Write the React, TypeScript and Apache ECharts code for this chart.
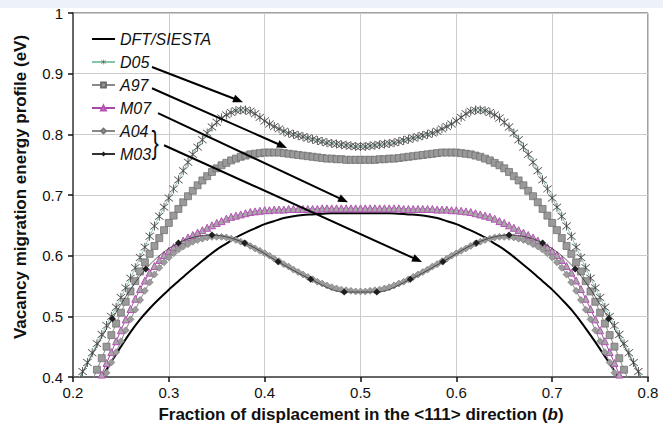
import React, { useEffect, useRef } from "react";
import * as echarts from "echarts";

const X_GRID = [
  0.2, 0.205, 0.21, 0.215, 0.22, 0.225, 0.23, 0.235, 0.24, 0.245, 0.25, 0.255, 0.26, 0.265, 0.27, 0.275,
  0.28, 0.285, 0.29, 0.295, 0.3, 0.305, 0.31, 0.315, 0.32, 0.325, 0.33, 0.335, 0.34, 0.345, 0.35, 0.355,
  0.36, 0.365, 0.37, 0.375, 0.38, 0.385, 0.39, 0.395, 0.4, 0.405, 0.41, 0.415, 0.42, 0.425, 0.43, 0.435,
  0.44, 0.445, 0.45, 0.455, 0.46, 0.465, 0.47, 0.475, 0.48, 0.485, 0.49, 0.495, 0.5, 0.505, 0.51, 0.515,
  0.52, 0.525, 0.53, 0.535, 0.54, 0.545, 0.55, 0.555, 0.56, 0.565, 0.57, 0.575, 0.58, 0.585, 0.59, 0.595,
  0.6, 0.605, 0.61, 0.615, 0.62, 0.625, 0.63, 0.635, 0.64, 0.645, 0.65, 0.655, 0.66, 0.665, 0.67, 0.675,
  0.68, 0.685, 0.69, 0.695, 0.7, 0.705, 0.71, 0.715, 0.72, 0.725, 0.73, 0.735, 0.74, 0.745, 0.75, 0.755,
  0.76, 0.765, 0.77, 0.775, 0.78, 0.785, 0.79, 0.795, 0.8,
];

const D05 = [
  0.379, 0.394, 0.409, 0.424, 0.440, 0.455, 0.470, 0.485, 0.500, 0.515, 0.531, 0.547, 0.563, 0.580, 0.597, 0.614,
  0.632, 0.649, 0.665, 0.680, 0.695, 0.710, 0.725, 0.740, 0.754, 0.767, 0.779, 0.791, 0.802, 0.812, 0.820, 0.827,
  0.832, 0.836, 0.839, 0.840, 0.840, 0.838, 0.834, 0.828, 0.822, 0.817, 0.813, 0.809, 0.805, 0.802, 0.800, 0.798,
  0.796, 0.794, 0.792, 0.790, 0.788, 0.786, 0.785, 0.784, 0.783, 0.782, 0.781, 0.780, 0.780,
  0.780, 0.781, 0.782, 0.783, 0.784, 0.785, 0.786, 0.788, 0.790, 0.792, 0.794, 0.796, 0.798, 0.800, 0.802, 0.805,
  0.809, 0.813, 0.817, 0.822, 0.828, 0.834, 0.838, 0.840, 0.840, 0.839, 0.836, 0.832, 0.827, 0.820, 0.812, 0.802,
  0.791, 0.779, 0.767, 0.754, 0.740, 0.725, 0.710, 0.695, 0.680, 0.665, 0.649, 0.632, 0.614, 0.597, 0.580, 0.563,
  0.547, 0.531, 0.515, 0.500, 0.485, 0.470, 0.455, 0.440, 0.424, 0.409, 0.394, 0.379,
];

const A97 = [
  null, null, null, 0.374, 0.393, 0.412, 0.431, 0.450, 0.469, 0.488, 0.506, 0.524, 0.541, 0.558, 0.574, 0.589,
  0.603, 0.616, 0.629, 0.642, 0.654, 0.666, 0.677, 0.688, 0.698, 0.707, 0.716, 0.724, 0.731, 0.738, 0.744, 0.749,
  0.753, 0.757, 0.760, 0.763, 0.765, 0.767, 0.768, 0.769, 0.770, 0.770, 0.770, 0.770, 0.769, 0.768, 0.767, 0.766,
  0.765, 0.764, 0.763, 0.762, 0.761, 0.760, 0.760, 0.759, 0.759, 0.758, 0.758, 0.758, 0.758,
  0.758, 0.758, 0.758, 0.759, 0.759, 0.760, 0.760, 0.761, 0.762, 0.763, 0.764, 0.765, 0.766, 0.767, 0.768, 0.769,
  0.770, 0.770, 0.770, 0.770, 0.769, 0.768, 0.767, 0.765, 0.763, 0.760, 0.757, 0.753, 0.749, 0.744, 0.738, 0.731,
  0.724, 0.716, 0.707, 0.698, 0.688, 0.677, 0.666, 0.654, 0.642, 0.629, 0.616, 0.603, 0.589, 0.574, 0.558, 0.541,
  0.524, 0.506, 0.488, 0.469, 0.450, 0.431, 0.412, 0.393, 0.374, null, null, null,
];

const M07 = [
  null, null, null, null, null, 0.385, 0.404, 0.423, 0.441, 0.459, 0.477, 0.495, 0.512, 0.529, 0.545, 0.559,
  0.572, 0.583, 0.593, 0.601, 0.608, 0.614, 0.620, 0.625, 0.630, 0.634, 0.638, 0.642, 0.646, 0.650, 0.654, 0.657,
  0.661, 0.664, 0.666, 0.668, 0.670, 0.672, 0.673, 0.674, 0.675, 0.675, 0.676, 0.676, 0.676, 0.677, 0.677, 0.677,
  0.677, 0.677, 0.677, 0.677, 0.678, 0.678, 0.678, 0.678, 0.678, 0.678, 0.678, 0.678, 0.678,
  0.678, 0.678, 0.678, 0.678, 0.678, 0.678, 0.678, 0.678, 0.677, 0.677, 0.677, 0.677, 0.677, 0.677, 0.677, 0.676,
  0.676, 0.676, 0.675, 0.675, 0.674, 0.673, 0.672, 0.670, 0.668, 0.666, 0.664, 0.661, 0.657, 0.654, 0.650, 0.646,
  0.642, 0.638, 0.634, 0.630, 0.625, 0.620, 0.614, 0.608, 0.601, 0.593, 0.583, 0.572, 0.559, 0.545, 0.529, 0.512,
  0.495, 0.477, 0.459, 0.441, 0.423, 0.404, 0.385, null, null, null, null, null,
];

const A04 = [
  null, null, null, null, null, null, 0.390, 0.407, 0.424, 0.441, 0.459, 0.477, 0.495, 0.511, 0.527, 0.542,
  0.556, 0.569, 0.580, 0.589, 0.597, 0.604, 0.610, 0.615, 0.619, 0.623, 0.626, 0.628, 0.630, 0.631, 0.631, 0.631,
  0.630, 0.628, 0.626, 0.623, 0.620, 0.616, 0.612, 0.608, 0.604, 0.600, 0.595, 0.591, 0.586, 0.582, 0.577, 0.573,
  0.569, 0.565, 0.561, 0.557, 0.554, 0.551, 0.548, 0.546, 0.544, 0.543, 0.542, 0.541, 0.541,
  0.541, 0.542, 0.543, 0.544, 0.546, 0.548, 0.551, 0.554, 0.557, 0.561, 0.565, 0.569, 0.573, 0.577, 0.582, 0.586,
  0.591, 0.595, 0.600, 0.604, 0.608, 0.612, 0.616, 0.620, 0.623, 0.626, 0.628, 0.630, 0.631, 0.631, 0.631, 0.630,
  0.628, 0.626, 0.623, 0.619, 0.615, 0.610, 0.604, 0.597, 0.589, 0.580, 0.569, 0.556, 0.542, 0.527, 0.511, 0.495,
  0.477, 0.459, 0.441, 0.424, 0.407, 0.390, null, null, null, null, null, null,
];

const M03_X = [0.207, 0.241, 0.276, 0.31, 0.345, 0.379, 0.414, 0.448, 0.483, 0.517, 0.552, 0.586, 0.621, 0.655, 0.69, 0.724, 0.759, 0.793];
const M03_Y = [0.398, 0.496, 0.578, 0.621, 0.634, 0.621, 0.59, 0.561, 0.54, 0.54, 0.561, 0.59, 0.621, 0.634, 0.621, 0.578, 0.496, 0.398];

const DFT_X = [
  0.22, 0.23, 0.24, 0.25, 0.26, 0.27, 0.28, 0.29, 0.3, 0.31, 0.32, 0.33, 0.34, 0.35, 0.36, 0.37, 0.38, 0.39, 0.4,
  0.41, 0.42, 0.43, 0.44, 0.45, 0.46, 0.47, 0.48, 0.49, 0.5, 0.51, 0.52, 0.53, 0.54, 0.55, 0.56, 0.57, 0.58, 0.59,
  0.6, 0.61, 0.62, 0.63, 0.64, 0.65, 0.66, 0.67, 0.68, 0.69, 0.7, 0.71, 0.72, 0.73, 0.74, 0.75, 0.76, 0.77, 0.78,
];
const DFT_Y = [
  0.375, 0.4, 0.425, 0.45, 0.474, 0.495, 0.513, 0.529, 0.544, 0.558, 0.572, 0.585, 0.598, 0.61, 0.62, 0.63, 0.638, 0.645, 0.652,
  0.657, 0.662, 0.665, 0.667, 0.668, 0.669, 0.67, 0.67, 0.67, 0.67, 0.67, 0.67, 0.67, 0.669, 0.668, 0.667, 0.665, 0.662, 0.657,
  0.652, 0.645, 0.638, 0.63, 0.62, 0.61, 0.598, 0.585, 0.572, 0.558, 0.544, 0.528, 0.511, 0.491, 0.469, 0.446, 0.422, 0.398, 0.374,
];

const SERIES_NAMES = ["DFT/SIESTA", "D05", "A97", "M07", "A04", "M03"];
const X_TICKS = { min: 0.2, max: 0.8, step: 0.1 };
const Y_TICKS = { min: 0.4, max: 1, step: 0.1 };

// Annotation arrows, in data coordinates [from, to]
const ARROWS = [
  [[0.2824, 0.911], [0.3774, 0.853]],
  [[0.2824, 0.876], [0.4233, 0.7775]],
  [[0.2887, 0.835], [0.487, 0.688]],
  [[0.295, 0.782], [0.5642, 0.5896]],
];

const FONT = '"Liberation Sans", Arial, sans-serif';
const ASTERISK = "path://M9.2 0h1.6v20h-1.6z M1.8 2.9l1.1-1.1 15.3 15.3-1.1 1.1z M17.1 1.8l1.1 1.1-15.3 15.3-1.1-1.1z";
const LINE_ICON = "path://M0 0h46v4h-46z";

function pairs(xs: number[], ys: (number | null)[]) {
  const out: number[][] = [];
  xs.forEach((x, i) => {
    const y = ys[i];
    if (y !== null && y !== undefined) out.push([x, y]);
  });
  return out;
}

export default function App() {
  const ref = useRef<HTMLDivElement>(null);
  useEffect(() => {
    const chart = echarts.init(ref.current!, null, { renderer: "svg" });
    const option: any = {
      animation: false,
      backgroundColor: "#ffffff",
      grid: { left: 73, right: 15, top: 13, bottom: 51, show: true, borderColor: "#444", borderWidth: 1, backgroundColor: "transparent" },
      legend: {
        data: SERIES_NAMES.map((n) => (n === "DFT/SIESTA" ? { name: n, icon: LINE_ICON } : { name: n })),
        orient: "vertical",
        left: 91,
        top: 31,
        padding: 0,
        itemWidth: 23,
        itemHeight: 6,
        itemGap: 7,
        selectedMode: false,
        textStyle: { fontSize: 16, fontStyle: "italic", fontFamily: FONT, color: "#111" },
      },
      xAxis: {
        type: "value",
        min: X_TICKS.min,
        max: X_TICKS.max,
        interval: X_TICKS.step,
        axisLine: { show: true, lineStyle: { color: "#666", width: 2 } },
        axisTick: { show: true, length: 5, lineStyle: { color: "#111", width: 1.5 } },
        axisLabel: { fontSize: 15, fontFamily: FONT, color: "#111", margin: 8, formatter: (v: number) => String(+v.toFixed(1)) },
        splitLine: { show: true, lineStyle: { color: "#cccccc", width: 1 } },
      },
      yAxis: {
        type: "value",
        min: Y_TICKS.min,
        max: Y_TICKS.max,
        interval: Y_TICKS.step,
        axisLine: { show: true, lineStyle: { color: "#666", width: 2 } },
        axisTick: { show: true, length: 5, lineStyle: { color: "#111", width: 1.5 } },
        axisLabel: { fontSize: 15, fontFamily: FONT, color: "#111", margin: 10, formatter: (v: number) => String(+v.toFixed(1)) },
        splitLine: { show: true, lineStyle: { color: "#cccccc", width: 1 } },
      },
      series: [
        {
          name: "D05", type: "line", data: pairs(X_GRID, D05), clip: true,
          symbol: ASTERISK, symbolSize: 9, itemStyle: { color: "#4a4a4a" },
          lineStyle: { color: "#86c5a8", width: 1 }, z: 2,
        },
        {
          name: "A97", type: "line", data: pairs(X_GRID, A97), clip: true,
          symbol: "rect", symbolSize: 7, itemStyle: { color: "#9a9a9a", borderColor: "#6a6a6a", borderWidth: 0.7 },
          lineStyle: { color: "#8a8a8a", width: 1 }, z: 2,
        },
        {
          name: "DFT/SIESTA", type: "line", data: pairs(DFT_X, DFT_Y), clip: true, smooth: 0.3,
          symbol: "none", showSymbol: false, itemStyle: { color: "#000" },
          lineStyle: { color: "#000", width: 2 }, z: 2,
        },
        {
          name: "M07", type: "line", data: pairs(X_GRID, M07), clip: true,
          symbol: "triangle", symbolSize: 7, itemStyle: { color: "#a8a8a8", borderColor: "#b552b5", borderWidth: 1 },
          lineStyle: { color: "#a64aa6", width: 1 }, z: 3,
        },
        {
          name: "A04", type: "line", data: pairs(X_GRID, A04), clip: true,
          symbol: "diamond", symbolSize: 7, itemStyle: { color: "#9c9c9c", borderColor: "#767676", borderWidth: 0.6 },
          lineStyle: { color: "#888", width: 1 }, z: 3,
        },
        {
          name: "M03", type: "line", data: pairs(M03_X, M03_Y), clip: true, smooth: 0.35,
          symbol: "diamond", symbolSize: 7, itemStyle: { color: "#1e1e1e" },
          lineStyle: { color: "#333", width: 0.8 }, z: 4,
        },
      ],
    };
    chart.setOption(option);

    const graphics: any[] = [
      { type: "rect", shape: { x: 0, y: 0, width: 663, height: 8 }, style: { fill: "#edf2f8" }, silent: true, z: 0 },
      {
        type: "text", x: 20, y: 187, rotation: Math.PI / 2,
        style: {
          text: "Vacancy migration energy profile (eV)", font: `bold 17px ${FONT}`, fill: "#111",
          textAlign: "center", textVerticalAlign: "middle", align: "center", verticalAlign: "middle",
        },
      },
      {
        type: "text", x: 361, y: 414,
        style: {
          text: "Fraction of displacement in the <111> direction ({i|b})",
          font: `bold 17px ${FONT}`, fill: "#111",
          textAlign: "center", textVerticalAlign: "middle", align: "center", verticalAlign: "middle",
          rich: { i: { fontStyle: "italic", fontWeight: "bold", fontSize: 17, fontFamily: FONT, fill: "#111" } },
        },
      },
      {
        type: "text", x: 155, y: 143, scaleX: 0.7,
        style: {
          text: "}", font: `normal 31px ${FONT}`, fill: "#111",
          textAlign: "center", textVerticalAlign: "middle", align: "center", verticalAlign: "middle",
        },
      },
    ];
    ARROWS.forEach(([from, to]) => {
      const s = chart.convertToPixel({ gridIndex: 0 }, from) as number[];
      const e = chart.convertToPixel({ gridIndex: 0 }, to) as number[];
      const dx = e[0] - s[0];
      const dy = e[1] - s[1];
      const len = Math.sqrt(dx * dx + dy * dy);
      const ux = dx / len;
      const uy = dy / len;
      const L = 10;
      const W = 4;
      const bx = e[0] - ux * L;
      const by = e[1] - uy * L;
      graphics.push({
        type: "line", z: 10,
        shape: { x1: s[0], y1: s[1], x2: bx + ux * 2, y2: by + uy * 2 },
        style: { stroke: "#000", lineWidth: 2 },
      });
      graphics.push({
        type: "polygon", z: 10,
        shape: { points: [[e[0], e[1]], [bx - uy * W, by + ux * W], [bx + uy * W, by - ux * W]] },
        style: { fill: "#000" },
      });
    });
    chart.setOption({ graphic: graphics });

    return () => chart.dispose();
  }, []);
  return <div ref={ref} style={{ position: "fixed", left: 0, top: 0, width: 663, height: 428 }} />;
}
